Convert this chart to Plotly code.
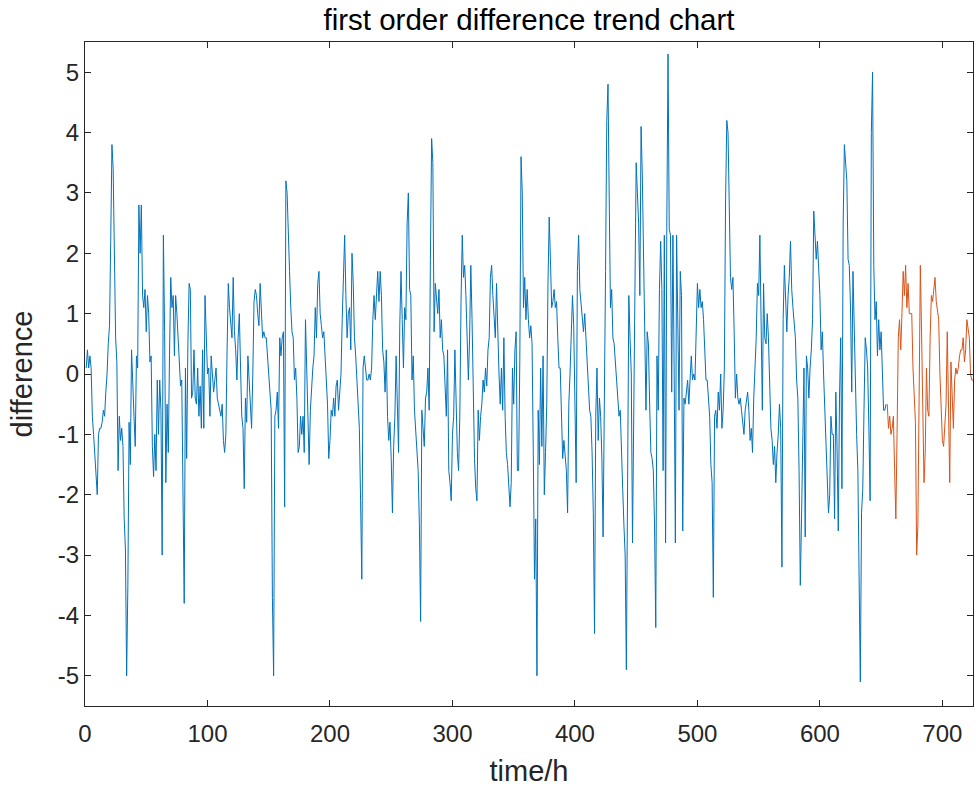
import numpy as np
import plotly.graph_objects as go

# first-order difference, training part (blue), hours 1..654
train_diff = [
    0.1, 0.4, 0.1, 0.3, 0.1, -0.7, -1.0, -1.3, -1.6, -2.0,
    -1.0, -0.9, -0.9, -0.8, -0.6, -0.7, -0.3, 0.0, 0.5, 0.8,
    2.2, 3.8, 3.4, 2.0, 0.6, 0.2, -1.6, -0.7, -1.1, -0.9,
    -1.2, -2.4, -2.9, -5.0, -3.5, -0.8, -1.5, 0.4, -0.3, -0.7,
    -1.2, 0.3, 0.1, 2.8, 2.0, 2.8, 1.3, 1.1, 1.4, 0.7,
    1.3, 1.0, 0.2, 0.3, -1.2, -1.7, -1.0, -1.6, -0.1, -1.0,
    -0.1, -0.6, -3.0, 2.3, 0.7, -1.8, -0.5, -1.3, 0.3, 1.6,
    1.1, 1.3, 0.3, 1.3, 1.0, 0.6, 0.1, -0.2, -0.1, -2.4,
    -3.8, 0.1, -1.4, 0.5, 1.5, 1.4, -0.4, -0.3, 0.4, -0.4,
    -0.5, 0.1, -0.7, -0.2, -0.9, 0.4, -0.9, 1.3, 0.6, 0.0,
    0.1, -0.7, 0.3, 0.0, -0.3, -0.1, 0.1, -0.4, -0.5, -0.6,
    -0.7, -0.5, -1.1, -1.3, -1.0, 0.4, 1.5, 1.1, 0.9, 0.6,
    1.6, 0.7, 0.4, -0.1, 0.6, 1.0, 0.1, -0.7, -0.9, -1.9,
    -0.4, -0.8, 0.3, -0.1, -0.6, -0.9, 0.0, 1.2, 1.4, 1.3,
    1.0, 0.8, 1.5, 0.9, 0.6, 0.7, 0.6, 0.6, 0.3, -0.1,
    -0.4, -0.6, -3.7, -5.0, -0.7, -0.6, -0.3, -0.9, 0.6, 0.3,
    0.6, 0.7, -2.2, 3.2, 3.0, 2.5, 1.7, 1.1, 0.7, 0.6,
    -0.1, 0.1, -0.4, -1.3, -1.2, -0.7, -1.0, -0.7, -1.3, 0.9,
    0.1, -0.9, -1.5, -0.6, -0.1, 0.1, 0.3, 1.1, 0.6, 1.5,
    1.7, 1.0, 0.8, 0.6, 0.7, 0.3, -0.1, -0.5, -1.4, -1.1,
    -0.6, -0.7, -0.4, -0.7, -0.2, -0.1, -0.6, -0.2, 0.0, 0.9,
    1.6, 2.3, 1.3, 0.6, 1.0, 1.1, 0.4, 2.0, 1.5, 0.6,
    0.3, -0.1, -0.6, -0.9, -2.1, -3.4, 0.1, 0.3, 0.1, -0.1,
    -0.1, 0.0, -0.1, 0.1, 0.9, 1.3, 0.9, 1.3, 1.7, 1.2,
    1.7, 1.3, 0.4, 0.2, -0.3, 0.4, -0.7, -1.1, -0.8, -1.4,
    -2.3, -1.2, -0.7, 0.3, -0.6, -1.3, 0.8, 1.7, 0.9, 0.1,
    1.1, 0.9, 2.5, 3.0, 1.4, 1.3, -0.1, 0.3, -0.6, -0.9,
    -1.3, -1.6, -2.5, -4.1, -0.6, -1.0, -1.2, -0.4, -0.3, 0.1,
    -0.6, 1.9, 3.9, 3.5, 0.7, 1.5, 1.2, 1.0, 1.4, 0.6,
    0.9, 0.4, 0.3, -0.4, -0.7, 0.4, -1.6, -1.8, -2.1, -1.0,
    -0.7, 0.4, -0.4, -1.3, -1.6, -0.7, 1.2, 2.3, 1.6, 1.8,
    1.3, 0.7, -0.1, 0.6, 1.8, 0.9, -0.6, -1.4, -1.9, -2.1,
    -0.6, -1.1, -0.7, -0.5, -0.1, -0.3, 0.1, -0.2, 0.4, 0.6,
    1.6, 1.8, 1.3, 1.0, 0.6, 1.5, 0.6, 0.0, -0.5, 0.1,
    -0.6, 0.6, -0.7, -1.3, -1.5, -1.8, -2.2, -1.8, 0.1, -0.5,
    0.4, 0.7, -1.6, -1.6, 0.2, 3.6, 3.0, 1.1, 1.6, 0.9,
    1.4, 0.9, 0.6, 0.8, 0.5, -1.3, -3.4, -2.4, -5.0, -0.6,
    -1.5, 0.1, -1.2, 0.3, -2.0, -1.3, -0.5, 1.5, 2.6, 1.9,
    1.1, 1.2, 1.4, 1.1, 1.2, 0.6, 0.1, 0.1, -0.8, -1.4,
    -1.1, -1.3, -1.6, -2.3, -0.5, 0.0, 0.7, 1.3, 0.8, -0.5,
    -1.8, 1.7, 2.3, 1.4, 1.2, 1.0, 0.7, 1.0, 0.6, 0.1,
    -0.3, -0.6, -0.7, -1.3, -2.3, -4.3, -0.7, 0.1, -1.1, -0.4,
    -0.7, -1.4, -2.7, -1.0, 1.7, 4.2, 4.8, 2.9, 1.1, 1.4,
    0.6, 0.5, 0.1, -0.1, -0.4, -0.7, -0.6, -1.1, -1.9, -2.5,
    -3.0, -4.9, -0.6, 1.3, 0.6, 0.0, -2.8, -0.6, 1.3, 3.5,
    3.0, 2.5, 1.3, 4.1, 3.3, 1.9, 1.2, -0.6, 0.7, 0.5,
    -0.5, -1.3, -1.4, -1.6, -2.5, -4.2, 0.3, -0.6, 1.4, 2.2,
    1.4, -1.6, 2.3, -2.8, 2.4, 5.3, 2.4, 2.3, -0.3, 2.3,
    0.1, -2.8, 2.3, 0.3, -0.6, 1.7, 1.3, -2.6, -0.4, -0.5,
    -0.3, -0.1, -0.5, 0.0, 0.3, -0.1, 0.0, -0.1, 0.6, 1.5,
    1.1, 1.4, 1.1, 1.2, 0.9, 0.3, -0.1, -0.1, -0.4, -0.7,
    -1.5, -1.8, -3.7, -0.7, -0.6, -0.9, -0.3, -0.6, 0.0, -0.9,
    -0.6, 0.1, 2.9, 4.2, 4.0, 2.7, 1.6, 1.4, 1.6, 0.7,
    -0.4, 0.0, -0.4, -0.5, -0.4, -0.6, -0.8, -1.0, -0.6, -0.4,
    -0.3, -0.6, -1.1, -0.9, -1.3, -0.4, 0.1, 0.6, 1.5, 1.3,
    2.3, 0.6, -0.6, 1.5, 0.6, 0.5, 1.0, 0.6, 0.0, -0.9,
    -1.1, -1.5, -1.2, -1.8, -1.3, -1.0, -0.5, -0.9, -3.2, 0.9,
    1.8, 1.3, 0.7, 1.3, 1.6, 2.2, 1.4, 1.1, 0.8, 0.6,
    -0.1, -0.4, -1.6, -3.5, -2.4, -1.3, 0.1, -2.7, 0.3, 0.1,
    -0.4, 0.1, 0.4, 0.9, 2.7, 2.3, 1.9, 2.2, 1.7, 1.3,
    0.4, 0.7, 0.0, -0.6, -1.0, -1.7, -2.3, -2.0, -0.7, -1.0,
    -1.0, -2.4, -0.3, -1.2, -2.6, -0.4, 0.6, -1.9, 2.5, 3.8,
    3.5, 3.2, 1.9, 1.8, 1.1, -0.3, 1.7, 0.7, 0.0, -1.0,
    -1.6, -4.1, -5.1, -2.3, -1.9, -0.6, 0.6, 0.4, 0.1, -0.9,
    -2.1, 4.0, 5.0, 1.8, 0.9, 1.2, 0.3, 0.9, 0.4, 0.7,
    -0.2, -0.6, -0.6, -0.5,
]

# first-order difference, test part (orange), hours 655..725
test_diff = [
    -0.5, -0.9, -0.7, -1.0, -0.9, -0.7, -1.6, -2.4, -1.0, 0.6,
    0.9, 0.4, 1.0, 1.7, 1.3, 1.8, 1.1, 1.5, 1.0, 1.0,
    1.0, 0.1, -0.4, -0.8, -3.0, -2.5, -0.4, 1.8, 0.7, -1.0,
    -1.8, -1.3, 0.1, -0.6, -0.7, 0.6, 1.3, 1.2, 1.4, 1.6,
    1.2, 1.0, 0.9, 0.0, -0.5, -1.1, -1.2, -0.9, -0.5, 0.7,
    -0.4, -1.8, 0.2, -0.5, -0.9, -0.1, 0.1, 0.0, 0.1, 0.3,
    0.4, 0.4, 0.6, 0.2, 0.4, 0.9, 0.7, 0.6, 0.0, -0.1,
    -0.1,
]

x_tick_vals = [0, 100, 200, 300, 400, 500, 600, 700]
y_tick_vals = [-5, -4, -3, -2, -1, 0, 1, 2, 3, 4, 5]
y_tick_text = ["-5", "-4", "-3", "-2", "-1", "0", "1", "2", "3", "4", "5"]

train_hours = np.arange(1, len(train_diff) + 1)
test_hours = np.arange(len(train_diff) + 1, len(train_diff) + len(test_diff) + 1)

FONT = "Liberation Sans, Arial, sans-serif"
AX = "#262626"

fig = go.Figure()
fig.add_trace(go.Scatter(x=train_hours, y=train_diff, mode="lines",
                         line=dict(color="#0072BD", width=1), showlegend=False))
fig.add_trace(go.Scatter(x=test_hours, y=test_diff, mode="lines",
                         line=dict(color="#D95319", width=1), showlegend=False))

fig.update_layout(
    width=976, height=787,
    margin=dict(l=85, r=3, t=42, b=81),
    paper_bgcolor="white", plot_bgcolor="white",
    font=dict(family=FONT, color=AX),
    title=dict(text="first order difference trend chart", x=0.5, xref="paper",
               xanchor="center", y=1 - 20 / 787, yref="container", yanchor="middle",
               font=dict(family=FONT, size=29.5, color="#000000")),
    xaxis=dict(range=[0, 725], tickvals=x_tick_vals, ticks="inside", ticklen=6,
               tickcolor=AX, showline=True, linecolor=AX, linewidth=1,
               mirror="allticks", showgrid=False, zeroline=False,
               ticklabelstandoff=6,
               tickfont=dict(size=24, color=AX),
               title=dict(text="time/h", font=dict(size=29, color=AX), standoff=14)),
    yaxis=dict(range=[-5.5, 5.5], tickvals=y_tick_vals, ticktext=y_tick_text,
               ticks="inside", ticklen=6,
               tickcolor=AX, showline=True, linecolor=AX, linewidth=1,
               mirror="allticks", showgrid=False, zeroline=False,
               tickfont=dict(size=24, color=AX),
               title=dict(text="difference", font=dict(size=29, color=AX), standoff=16)),
)

fig.write_html("out.html")
